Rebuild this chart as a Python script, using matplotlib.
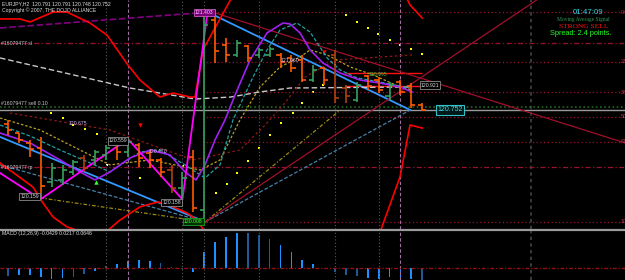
import matplotlib.pyplot as plt
from matplotlib.lines import Line2D

plt.rcParams['font.family'] = ['Liberation Sans', 'DejaVu Sans']

## price bars, EURJPY H2 (one entry per bar, oldest first)
bar_open = [120.659, 120.599, 120.533, 120.500, 120.274, 120.287, 120.340, 120.433, 120.420, 120.453,
            120.519, 120.473, 120.519, 120.466, 120.420, 120.353, 120.234, 120.440, 120.088, 121.350,
            121.184, 121.118, 121.177, 121.118, 121.118, 121.118, 121.098, 121.084, 120.951, 121.031,
            121.118, 120.898, 120.819, 120.978, 120.951, 120.845, 120.938, 120.911, 120.785]
bar_high = [120.686, 120.599, 120.553, 120.573, 120.400, 120.387, 120.420, 120.453, 120.486, 120.519,
            120.533, 120.559, 120.533, 120.486, 120.433, 120.387, 120.340, 120.486, 121.403, 121.397,
            121.230, 121.217, 121.184, 121.164, 121.171, 121.131, 121.118, 121.118, 121.051, 121.038,
            121.151, 120.918, 120.938, 120.985, 120.971, 120.938, 120.951, 120.931, 120.799]
bar_low = [120.586, 120.533, 120.440, 120.161, 120.240, 120.254, 120.320, 120.340, 120.387, 120.420,
           120.420, 120.440, 120.373, 120.367, 120.307, 120.201, 120.158, 120.074, 120.008, 121.064,
           121.071, 121.104, 121.071, 121.098, 121.104, 121.031, 121.005, 120.938, 120.938, 120.918,
           120.799, 120.799, 120.805, 120.885, 120.865, 120.819, 120.852, 120.765, 120.745]
bar_close = [120.619, 120.553, 120.493, 120.247, 120.367, 120.353, 120.407, 120.367, 120.473, 120.500,
             120.473, 120.539, 120.433, 120.420, 120.340, 120.234, 120.300, 120.101, 121.317, 121.144,
             121.118, 121.197, 121.098, 121.151, 121.157, 121.071, 121.031, 120.951, 121.018, 120.951,
             120.832, 120.845, 120.918, 120.911, 120.885, 120.918, 120.872, 120.785, 120.752]
brown_bars = [7, 15, 30, 31]

## MACD (12,26,9) histogram
macd_hist = [-0.0275, -0.0250, -0.0250, -0.0332, -0.0393, -0.0357, -0.0310, -0.0214, -0.0096, 0.0054,
             0.0154, 0.0261, 0.0286, 0.0250, 0.0196, 0.0036, -0.0054, -0.0125, 0.0582, 0.0917,
             0.1117, 0.1239, 0.1239, 0.1178, 0.1035, 0.0821, 0.0560, 0.0286, 0.0154, 0.0005,
             -0.0125, -0.0261, -0.0296, -0.0357, -0.0382, -0.0321, -0.0382, -0.0382, -0.0429]
macd_dark = [0, 6, 7, 9, 14, 15, 16, 22, 23, 24, 30, 31, 32, 38]

## indicator lines: (bar, price) vertices
upper_band = [(-0.73, 121.357), (1.1, 121.357), (2.02, 121.337), (4.13, 121.403), (5.41, 121.403),
              (7.52, 121.330), (9.08, 121.250), (11.0, 121.051), (12.11, 120.951), (13.94, 120.838),
              (15.14, 120.865), (16.7, 120.838), (17.16, 120.838), (17.89, 121.151), (18.53, 121.237),
              (20.4, 121.483), (21.5, 121.65), (35.5, 121.65), (36.88, 121.450), (38.0, 121.363)]
lower_band = [(-0.73, 120.400), (2.29, 120.240), (3.21, 120.134), (4.13, 120.041), (5.41, 119.975),
              (6.79, 119.942), (9.0, 119.942), (10.28, 120.021), (12.11, 120.108), (13.76, 120.141),
              (15.14, 120.108), (16.42, 120.068), (17.34, 120.021), (18.07, 119.940), (20.0, 119.6),
              (33.0, 119.6), (34.13, 119.940), (35.96, 120.307), (36.88, 120.652), (38.0, 120.632)]
ma_violet = [(-0.73, 120.599), (2.02, 120.533), (4.77, 120.420), (6.61, 120.340), (7.98, 120.287),
             (9.36, 120.340), (11.19, 120.433), (13.03, 120.486), (14.86, 120.453), (16.24, 120.340),
             (17.25, 120.287), (18.07, 120.387), (18.99, 120.553), (19.91, 120.686), (20.83, 120.852),
             (22.2, 121.084), (23.76, 121.264), (25.23, 121.330), (25.87, 121.324), (26.79, 121.264),
             (27.71, 121.151), (28.9, 121.064), (30.46, 120.998), (32.29, 120.951), (34.13, 120.931),
             (35.96, 120.905), (37.06, 120.872)]
ma_teal = [(-0.73, 120.652), (2.02, 120.579), (4.77, 120.486), (7.52, 120.400), (9.36, 120.340),
           (12.11, 120.473), (13.94, 120.486), (16.24, 120.387), (18.07, 120.300), (19.45, 120.387),
           (20.64, 120.686), (22.48, 120.971), (23.76, 121.151), (24.95, 121.284), (26.51, 121.330),
           (27.71, 121.270), (29.27, 121.098), (30.46, 121.018), (32.02, 120.965), (34.13, 120.938),
           (36.88, 120.898)]
ma_olive = [(-0.73, 120.699), (2.94, 120.619), (6.61, 120.486), (9.36, 120.387), (13.03, 120.420),
            (17.61, 120.353), (19.45, 120.420), (21.28, 120.686), (23.12, 120.905), (24.95, 121.038),
            (26.79, 121.104), (27.71, 121.151), (29.27, 121.118), (31.38, 121.038), (33.49, 120.985),
            (35.96, 120.905), (37.06, 120.885)]
ma_maroon = [(0.18, 120.732), (9.36, 120.619), (16.97, 120.420), (21.28, 120.486), (23.58, 120.652),
             (25.41, 120.799), (27.25, 120.971), (30.0, 121.084), (37.06, 121.118)]
ma_gray = [(-0.73, 121.098), (11.19, 120.898), (17.16, 120.825), (20.4, 120.838), (23.12, 120.872),
           (25.87, 120.898), (36.88, 120.905)]
zigzag = [(-0.73, 120.333), (3.0, 120.159), (11.0, 120.559), (16.0, 120.158), (18.3, 121.403)]

## trend lines drawn on the chart
trend_lines = {
    'blue_top': [(18.3, 121.403), (36.9, 120.752)],
    'blue_left': [(-0.73, 120.573), (18.1, 120.008)],
    'steel_right': [(18.1, 120.008), (36.9, 120.752)],
    'steel_left': [(-0.73, 120.387), (18.1, 120.008)],
    'olive_right': [(18.1, 120.008), (30.46, 120.751)],
    'olive_left': [(2.94, 120.168), (18.1, 120.008)],
    'red_up': [(18.1, 120.008), (48.5, 121.483)],
    'red_down': [(19.0, 121.397), (56.6, 120.533)],
    'purple_top': [(-0.73, 121.297), (18.5, 121.403)],
}

## parabolic SAR dots
sar_bar = [3.9, 5.0, 6.0, 7.1, 8.2, 12.1, 19.1, 20.1, 21.0, 22.0, 23.0, 24.0, 25.0, 26.1, 27.0,
           28.0, 28.9, 31.0, 32.0, 33.0, 33.9, 35.0, 36.0, 37.0, 38.0]
sar_price = [120.733, 120.699, 120.652, 120.626, 120.593, 120.300, 120.201, 120.260, 120.334, 120.413,
             120.500, 120.586, 120.666, 120.732, 120.799, 120.872, 120.918, 121.383, 121.337, 121.297,
             121.257, 121.217, 121.184, 121.157, 121.124]

## fibonacci from the swing high / low
fib_high = 121.403
fib_low = 120.008
fib_levels = [0.0, 23.6, 38.2, 50.0, 61.8, 100.0]

bid = 120.752
order_open = 120.772
stop_loss = 121.197
take_profit = 120.373
red_levels = [120.998, 120.911]

day_lines = [9, 16, 18, 23, 30, 34]
session_lines = [11, 36]

SMALL = 3.7

fig = plt.figure(figsize=(6.25, 2.8), dpi=100)
fig.patch.set_facecolor('black')
ax = fig.add_axes([0, 51 / 280, 1, 229 / 280])
ax2 = fig.add_axes([0, 0, 1, 49 / 280])
for a in (ax, ax2):
    a.set_facecolor('black')
    a.set_xlim(-0.734, 56.6)
    a.set_xticks([])
    a.set_yticks([])
    for s in a.spines.values():
        s.set_visible(False)
    for d in day_lines:
        a.axvline(d, color='#5a5a5a', lw=0.8, ls=(0, (1, 2)))
    for d in session_lines:
        a.axvline(d, color='#a070a0', lw=0.8, ls=(0, (3, 2)))
    a.axvline(48, color='#444444', lw=1.2, ls=(0, (2, 2)))
ax.set_ylim(119.961, 121.483)
ax2.set_ylim(-0.0428, 0.1321)

# horizontal levels
fib_col = '#9a1030'
for lv in fib_levels:
    p = fib_high - lv / 100 * (fib_high - fib_low)
    ax.hlines(p, 18.2, 56.6, color=fib_col, lw=0.9, ls=(0, (1, 2)))
    ax.text(56.2, p, '%.1f' % lv, color='#c03050', fontsize=SMALL, va='center', ha='left')
ax.axhline(stop_loss, color=fib_col, lw=0.9, ls=(0, (4, 2, 1, 2)))
ax.axhline(take_profit, color=fib_col, lw=0.9, ls=(0, (4, 2, 1, 2)))
ax.axhline(order_open, color='#1f6a1f', lw=1.2, ls=(0, (1, 1.5)))
ax.axhline(bid, color='#9a9a9a', lw=1.0)
for lv in red_levels:
    ax.hlines(lv, 30.9, 38.0, color='#ff1010', lw=1.0)

# trend lines
styles = {
    'blue_top': dict(color='#3399ff', lw=1.3),
    'blue_left': dict(color='#3399ff', lw=1.3),
    'steel_right': dict(color='#4a7fa8', lw=0.9, ls=(0, (3, 1.5))),
    'steel_left': dict(color='#4a7fa8', lw=0.9, ls=(0, (3, 1.5))),
    'olive_right': dict(color='#9a8a10', lw=0.9, ls=(0, (3, 1.5, 1, 1.5))),
    'olive_left': dict(color='#9a8a10', lw=0.9, ls=(0, (3, 1.5, 1, 1.5))),
    'red_up': dict(color='#a0102a', lw=0.9),
    'red_down': dict(color='#a0102a', lw=0.9),
    'purple_top': dict(color='#800080', lw=1.2, ls=(0, (4, 1.5))),
}
for name, pts in trend_lines.items():
    ax.plot([p[0] for p in pts], [p[1] for p in pts], **styles[name])

def line(pts, **kw):
    ax.plot([p[0] for p in pts], [p[1] for p in pts], **kw)

line(ma_gray, color='#c8c8c8', lw=1.0, ls=(0, (4, 2)))
line(ma_maroon, color='#8b1a1a', lw=0.9, ls=(0, (2, 2)))
line(ma_olive, color='#b8a020', lw=0.9, ls=(0, (2, 1.5)))
line(ma_teal, color='#20a0a0', lw=0.9, ls=(0, (3, 1.5)))
line(ma_violet, color='#a020f0', lw=1.2)
line(upper_band, color='#ff0000', lw=1.2)
line(lower_band, color='#ff0000', lw=1.2)
line(zigzag, color='#ff00ff', lw=1.3)

# OHLC bars
for i in range(len(bar_open)):
    if i in brown_bars:
        c = '#b0400f'
    elif bar_close[i] >= bar_open[i]:
        c = '#36a060'
    else:
        c = '#ff5a00'
    ax.vlines(i, bar_low[i], bar_high[i], color=c, lw=1.2)
    ax.hlines(bar_open[i], i - 0.38, i, color=c, lw=1.2)
    ax.hlines(bar_close[i], i, i + 0.38, color=c, lw=1.2)

ax.scatter(sar_bar, sar_price, s=2.5, marker='s', color='#ffff00', lw=0)
ax.scatter([9.08, 16.06, 30.0], [120.387, 120.380, 121.051], s=4, marker='s', color='white', lw=0)
ax.scatter([12.11, 28.99], [120.652, 121.137], s=10, marker='v', color='#ff0000', lw=0)
ax.scatter([8.07], [120.274], s=10, marker='^', color='#33ff33', lw=0)

# price labels
box = dict(boxstyle='square,pad=0.2', fc='black', ec='#8a8a8a', lw=0.6)
for txt, x, y in [('120.159', 2.0, 120.174), ('120.559', 10.1, 120.546), ('120.158', 15.0, 120.134),
                  ('120.921', 38.7, 120.918)]:
    ax.text(x, y, txt, color='#d8d8d8', fontsize=SMALL, ha='center', va='center', bbox=box)
ax.text(18.0, 121.403, '121.403', color='#ffc8ff', fontsize=SMALL, ha='center', va='center',
        bbox=dict(boxstyle='square,pad=0.2', fc='#7a007a', ec='#c060c0', lw=0.6))
ax.text(17.0, 120.008, '120.008', color='#40ff40', fontsize=SMALL, ha='center', va='center',
        bbox=dict(boxstyle='square,pad=0.2', fc='#003000', ec='#20a020', lw=0.6))
for txt, x, y in [('120.675', 6.4, 120.659), ('120.470', 13.8, 120.473), ('121.060', 25.9, 121.078)]:
    ax.text(x, y, txt, color='#d8b8f0', fontsize=SMALL, ha='center', va='center')
ax.text(33.9, 120.991, '120.995', color='#40c040', fontsize=SMALL, ha='center', va='center')
ax.text(40.55, bid, '120.752', color='#40e0e8', fontsize=5.0, ha='center', va='center',
        bbox=dict(boxstyle='square,pad=0.2', fc='#001818', ec='#30c0c8', lw=0.8))

ax.text(-0.6, stop_loss, '#16079477 sl', color='#c8c8c8', fontsize=SMALL, va='center')
ax.text(-0.6, 120.792, '#16079477 sell 0.10', color='#c8c8c8', fontsize=SMALL, va='center')
ax.text(-0.6, take_profit, '#16079477 tp', color='#c8c8c8', fontsize=SMALL, va='center')

# MACD panel
ax2.axhline(0, color='#a01010', lw=0.9, ls=(0, (3, 1.5, 1, 1.5)))
hist_cols = ['#1f5a96' if i in macd_dark else '#1e90ff' for i in range(len(macd_hist))]
ax2.bar(range(len(macd_hist)), macd_hist, width=0.16, color=hist_cols)

fig.add_artist(Line2D([0, 1], [1 - 230 / 280] * 2, color='#9a9a9a', lw=1.6))

fig.text(2 / 625, 1 - 4 / 280, 'EURJPY,H2  120.791 120.791 120.748 120.752', color='#e0e0e0',
         fontsize=SMALL, va='center')
fig.text(2 / 625, 1 - 10.5 / 280, 'Copyright \u00a9 2007, THE DOJO ALLIANCE', color='#e0e0e0',
         fontsize=SMALL, va='center')
fig.text(2 / 625, 1 - 234 / 280, 'MACD (12,26,9) -0.0429 0.0217 0.0646', color='#e0e0e0',
         fontsize=SMALL, va='center')

fig.text(588 / 625, 1 - 12.5 / 280, '01:47:09', color='#30d8e8', fontsize=5.7, ha='center', va='center')
fig.text(583 / 625, 1 - 19.5 / 280, 'Moving Average Signal', color='#2e9b57', fontsize=4,
         family='Liberation Serif', ha='center', va='center')
fig.text(584 / 625, 1 - 26.5 / 280, 'STRONG SELL', color='#ff1010', fontsize=5.4,
         family='Liberation Serif', ha='center', va='center')
fig.text(581 / 625, 1 - 33.5 / 280, 'Spread: 2.4 points.', color='#20ff20', fontsize=5.3,
         ha='center', va='center')

fig.savefig('out.png', dpi=100, facecolor='black')
